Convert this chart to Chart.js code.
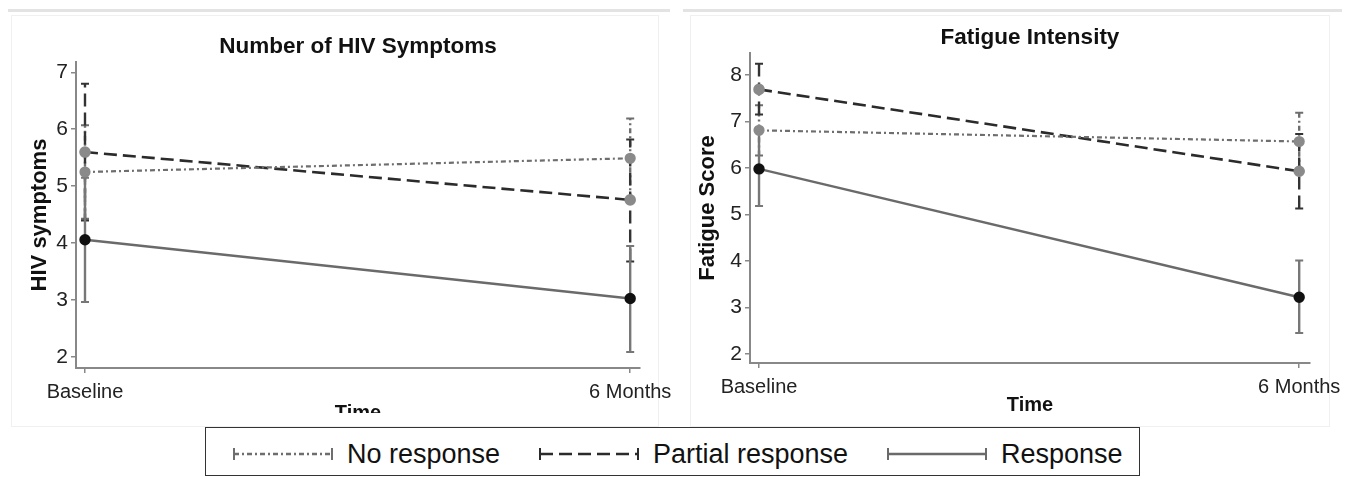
<!DOCTYPE html>
<html>
<head>
<meta charset="utf-8">
<script src="https://cdn.jsdelivr.net/npm/chart.js@4.4.1/dist/chart.umd.min.js"></script>
<style>
  body { margin: 0; width: 1360px; height: 479px; background: #fff; position: relative; overflow: hidden;
         font-family: "Liberation Sans", Arial, sans-serif; }
  .sep { position: absolute; height: 3px; background: #e3e3e3; }
  .frame { position: absolute; border: 1px solid #f0f0f0; }
  .clip { position: absolute; overflow: hidden; }
  .clip canvas { position: absolute; left: 0; }
  #legend { position: absolute; left: 205px; top: 427px; width: 935px; height: 49px; border: 1.5px solid #333;
            font-size: 27px; color: #111; box-sizing: border-box; }
  #legend .item { position: absolute; top: 3px; height: 46px; display: flex; align-items: center; white-space: nowrap; }
  #legend svg { margin-right: 13px; }
</style>
</head>
<body>
<div class="sep" style="left:8px; top:9px; width:662px;"></div>
<div class="sep" style="left:683px; top:9px; width:659px;"></div>
<div class="frame" style="left:11px; top:15px; width:646px; height:410px;"></div>
<div class="frame" style="left:690px; top:15px; width:638px; height:410px;"></div>

<div class="clip" style="left:8px; top:14px; width:665px; height:399px;">
  <canvas id="chartHiv" width="665" height="410" style="top:4px;"></canvas>
</div>
<div class="clip" style="left:683px; top:10px; width:670px; height:410px;">
  <canvas id="chartFatigue" width="665" height="410" style="top:0px;"></canvas>
</div>

<div id="legend"></div>

<script>
// Datos
const categories = ['Baseline', '6 Months'];
const seriesNames = ['No response', 'Partial response', 'Response'];

// Number of HIV Symptoms
const hivNoResp = [5.25, 5.49];
const hivNoRespLo = [4.43, 4.79];
const hivNoRespHi = [6.07, 6.19];
const hivPartial = [5.60, 4.76];
const hivPartialLo = [4.40, 3.68];
const hivPartialHi = [6.80, 5.82];
const hivResp = [4.06, 3.03];
const hivRespLo = [2.97, 2.09];
const hivRespHi = [5.15, 3.95];
const hivTicks = [2, 3, 4, 5, 6, 7];

// Fatigue Intensity
const fatNoResp = [6.81, 6.57];
const fatNoRespLo = [6.27, 5.96];
const fatNoRespHi = [7.35, 7.19];
const fatPartial = [7.69, 5.93];
const fatPartialLo = [7.15, 5.13];
const fatPartialHi = [8.24, 6.73];
const fatResp = [5.98, 3.22];
const fatRespLo = [5.18, 2.45];
const fatRespHi = [6.78, 4.01];
const fatTicks = [2, 3, 4, 5, 6, 7, 8];

// Estilos de las series
const seriesStyle = [
    { color: '#6e6e6e', point: '#8a8a8a', dash: [5, 3, 2, 3], width: 2.2, errColor: '#6e6e6e' },
    { color: '#2b2b2b', point: '#8a8a8a', dash: [13, 6], width: 2.6, errColor: '#333333' },
    { color: '#6a6a6a', point: '#111111', dash: [], width: 2.4, errColor: '#777777' }
];
// posicion de cada entrada dentro de la leyenda
const legendLeft = [26, 332, 680];

const FONT = '"Liberation Sans", Arial, sans-serif';

function makeDataset(i, vals, lo, hi) {
    const st = seriesStyle[i];
    return {
        label: seriesNames[i],
        data: categories.map((c, k) => ({ x: k, y: vals[k] })),
        lo: lo,
        hi: hi,
        borderColor: st.color,
        borderWidth: st.width,
        borderDash: st.dash,
        pointRadius: 4.5,
        pointBackgroundColor: st.point,
        pointBorderColor: st.point,
        errColor: st.errColor,
        tension: 0
    };
}

// Barras de error
const errorBars = {
    id: 'errorBars',
    beforeDatasetsDraw(chart) {
        const { ctx, scales: { x, y } } = chart;
        chart.data.datasets.forEach((ds) => {
            ds.lo.forEach((lo, k) => {
                const px = x.getPixelForValue(k);
                const y1 = y.getPixelForValue(lo);
                const y2 = y.getPixelForValue(ds.hi[k]);
                ctx.save();
                ctx.strokeStyle = ds.errColor;
                ctx.lineWidth = 2.4;
                ctx.setLineDash(ds.borderDash);
                ctx.beginPath();
                ctx.moveTo(px, y1);
                ctx.lineTo(px, y2);
                ctx.stroke();
                ctx.setLineDash([]);
                ctx.lineWidth = 2;
                ctx.beginPath();
                ctx.moveTo(px - 4, y1); ctx.lineTo(px + 4, y1);
                ctx.moveTo(px - 4, y2); ctx.lineTo(px + 4, y2);
                ctx.stroke();
                ctx.restore();
            });
        });
    }
};

// Titulo centrado sobre el area del grafico
const plotTitle = {
    id: 'plotTitle',
    afterDraw(chart, args, opts) {
        const { ctx, chartArea } = chart;
        ctx.save();
        ctx.font = 'bold 22.5px ' + FONT;
        ctx.fillStyle = '#111';
        ctx.textAlign = 'center';
        ctx.textBaseline = 'middle';
        ctx.fillText(opts.text, (chartArea.left + chartArea.right) / 2, opts.y);
        ctx.restore();
    }
};

function getOptions(cfg) {
    return {
        responsive: false,
        animation: false,
        layout: { padding: { top: cfg.top, right: cfg.right, left: 0, bottom: 0 } },
        plugins: {
            legend: { display: false },
            tooltip: { enabled: false },
            plotTitle: { text: cfg.title, y: cfg.titleY }
        },
        scales: {
            x: {
                type: 'linear',
                min: cfg.xMin,
                max: cfg.xMax,
                afterBuildTicks: (s) => { s.ticks = categories.map((c, k) => ({ value: k })); },
                afterFit: (s) => { s.height = cfg.xH; s.paddingLeft = 0; s.paddingRight = 0; },
                ticks: {
                    callback: (v) => categories[v],
                    font: { family: FONT, size: 20 },
                    color: '#222',
                    maxRotation: 0,
                    autoSkip: false,
                    padding: 7
                },
                grid: { drawOnChartArea: false, tickLength: 5, color: '#888', lineWidth: 1.5 },
                border: { color: '#888', width: 2 },
                title: { display: true, text: 'Time', color: '#111',
                         font: { family: FONT, size: 20, weight: 'bold' }, padding: { top: 0, bottom: cfg.timePad } }
            },
            y: {
                min: cfg.yMin,
                max: cfg.yMax,
                afterBuildTicks: (s) => { s.ticks = cfg.ticks.map((v) => ({ value: v })); },
                afterFit: (s) => { s.width = cfg.yW; },
                ticks: { font: { family: FONT, size: 21 }, color: '#222', padding: 3 },
                grid: { drawOnChartArea: false, tickLength: 5, color: '#888', lineWidth: 1.5 },
                border: { color: '#888', width: 2 },
                title: { display: true, text: cfg.yTitle, color: '#111',
                         font: { family: FONT, size: 22, weight: 'bold' }, padding: { top: cfg.yTitlePad } }
            }
        }
    };
}

new Chart(document.getElementById('chartHiv'), {
    type: 'line',
    data: {
        datasets: [
            makeDataset(0, hivNoResp, hivNoRespLo, hivNoRespHi),
            makeDataset(1, hivPartial, hivPartialLo, hivPartialHi),
            makeDataset(2, hivResp, hivRespLo, hivRespHi)
        ]
    },
    options: getOptions({
        title: 'Number of HIV Symptoms', titleY: 29, top: 44, right: 33,
        xMin: -0.0165, xMax: 1.018, xH: 60, timePad: 3,
        yMin: 1.81, yMax: 7.18, ticks: hivTicks, yW: 68, yTitle: 'HIV symptoms', yTitlePad: 19
    }),
    plugins: [errorBars, plotTitle]
});

new Chart(document.getElementById('chartFatigue'), {
    type: 'line',
    data: {
        datasets: [
            makeDataset(0, fatNoResp, fatNoRespLo, fatNoRespHi),
            makeDataset(1, fatPartial, fatPartialLo, fatPartialHi),
            makeDataset(2, fatResp, fatRespLo, fatRespHi)
        ]
    },
    options: getOptions({
        title: 'Fatigue Intensity', titleY: 28, top: 43, right: 38,
        xMin: -0.0167, xMax: 1.020, xH: 57, timePad: 3,
        yMin: 1.806, yMax: 8.473, ticks: fatTicks, yW: 67, yTitle: 'Fatigue Score', yTitlePad: 12
    }),
    plugins: [errorBars, plotTitle]
});

// Leyenda
const legend = document.getElementById('legend');
seriesNames.forEach((name, i) => {
    const st = seriesStyle[i];
    const item = document.createElement('span');
    item.className = 'item';
    item.style.left = legendLeft[i] + 'px';
    item.innerHTML =
        `<svg width="102" height="20">` +
        `<line x1="2" y1="10" x2="100" y2="10" stroke="${st.color}" stroke-width="2.4" stroke-dasharray="${st.dash.join(' ')}"/>` +
        `<line x1="2" y1="4" x2="2" y2="16" stroke="${st.color}" stroke-width="2"/>` +
        `<line x1="100" y1="4" x2="100" y2="16" stroke="${st.color}" stroke-width="2"/>` +
        `</svg><span>${name}</span>`;
    legend.appendChild(item);
});
</script>
</body>
</html>
